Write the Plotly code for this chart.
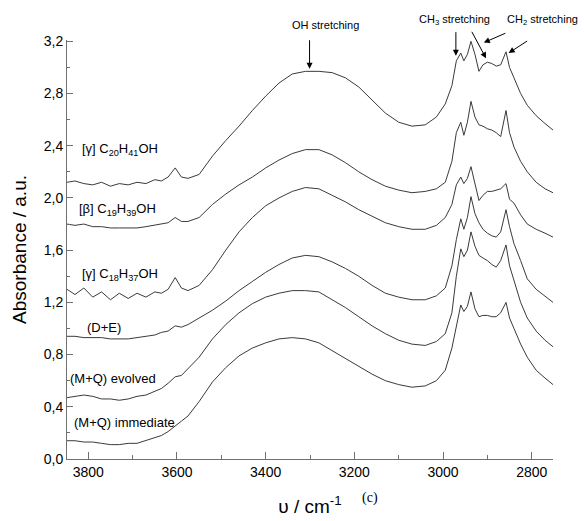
import plotly.graph_objects as go

# shared wavenumber grid (cm-1)
wavenumber = [3848, 3830, 3810, 3790, 3770, 3750, 3730, 3710, 3690, 3670, 3650, 3635, 3620,
              3604, 3590, 3575, 3550, 3520, 3490, 3460, 3430, 3400, 3370, 3340, 3310, 3280,
              3250, 3220, 3190, 3160, 3130, 3100, 3070, 3040, 3015, 2995, 2980, 2970, 2960,
              2953, 2945, 2937, 2928, 2919, 2910, 2900, 2890, 2880, 2870, 2858, 2850, 2840,
              2825, 2810, 2790, 2770, 2752]

c20h41oh = [2.12, 2.13, 2.11, 2.10, 2.12, 2.09, 2.11, 2.10, 2.12, 2.11, 2.14, 2.13, 2.16,
            2.23, 2.16, 2.15, 2.18, 2.32, 2.44, 2.55, 2.67, 2.78, 2.88, 2.95, 2.97, 2.97,
            2.96, 2.92, 2.85, 2.75, 2.65, 2.58, 2.55, 2.56, 2.62, 2.72, 2.86, 3.05, 3.11,
            3.05, 3.10, 3.20, 3.10, 2.97, 3.02, 3.04, 3.03, 3.01, 3.02, 3.12, 3.00, 2.92,
            2.80, 2.71, 2.63, 2.57, 2.52]

c19h39oh = [1.80, 1.79, 1.80, 1.78, 1.78, 1.77, 1.77, 1.77, 1.77, 1.78, 1.79, 1.80, 1.81,
            1.85, 1.82, 1.82, 1.85, 1.95, 2.03, 2.10, 2.16, 2.23, 2.29, 2.34, 2.37, 2.37,
            2.33, 2.27, 2.20, 2.14, 2.09, 2.06, 2.04, 2.05, 2.07, 2.12, 2.28, 2.50, 2.58,
            2.48, 2.58, 2.74, 2.62, 2.56, 2.55, 2.53, 2.52, 2.50, 2.47, 2.67, 2.50, 2.39,
            2.28, 2.20, 2.12, 2.07, 2.04]

c18h37oh = [1.30, 1.26, 1.31, 1.24, 1.28, 1.22, 1.27, 1.23, 1.27, 1.24, 1.28, 1.27, 1.30,
            1.39, 1.31, 1.29, 1.33, 1.45, 1.60, 1.74, 1.85, 1.94, 2.00, 2.05, 2.08, 2.07,
            2.02, 1.97, 1.91, 1.86, 1.81, 1.78, 1.76, 1.76, 1.79, 1.85, 1.95, 2.10, 2.16,
            2.11, 2.15, 2.24, 2.12, 1.98, 2.02, 2.05, 2.05, 2.06, 2.07, 2.11, 1.99, 1.96,
            1.87, 1.80, 1.76, 1.73, 1.70]

d_plus_e = [0.94, 0.94, 0.93, 0.93, 0.93, 0.92, 0.92, 0.92, 0.93, 0.94, 0.95, 0.97, 0.98,
            1.02, 1.01, 1.03, 1.08, 1.14, 1.21, 1.29, 1.36, 1.43, 1.49, 1.54, 1.56, 1.55,
            1.51, 1.46, 1.40, 1.33, 1.27, 1.24, 1.22, 1.22, 1.25, 1.31, 1.48, 1.68, 1.84,
            1.76, 1.85, 2.01, 1.88, 1.81, 1.76, 1.73, 1.71, 1.70, 1.74, 1.91, 1.78, 1.65,
            1.52, 1.38, 1.30, 1.25, 1.20]

mq_evolved = [0.47, 0.48, 0.49, 0.48, 0.46, 0.46, 0.45, 0.46, 0.48, 0.49, 0.52, 0.54, 0.58,
              0.63, 0.64, 0.69, 0.78, 0.92, 1.03, 1.12, 1.19, 1.24, 1.27, 1.29, 1.29, 1.28,
              1.22, 1.16, 1.09, 1.02, 0.96, 0.91, 0.88, 0.87, 0.90, 0.96, 1.12, 1.40, 1.61,
              1.55, 1.60, 1.74, 1.63, 1.56, 1.54, 1.52, 1.49, 1.47, 1.52, 1.64, 1.48, 1.36,
              1.20, 1.08, 0.98, 0.91, 0.86]

mq_immediate = [0.14, 0.14, 0.13, 0.13, 0.12, 0.11, 0.11, 0.12, 0.12, 0.14, 0.16, 0.18, 0.21,
                0.25, 0.29, 0.33, 0.44, 0.59, 0.70, 0.79, 0.85, 0.89, 0.92, 0.93, 0.92, 0.89,
                0.83, 0.77, 0.71, 0.65, 0.60, 0.57, 0.55, 0.56, 0.60, 0.68, 0.85, 1.02, 1.18,
                1.13, 1.17, 1.28, 1.15, 1.09, 1.10, 1.10, 1.09, 1.09, 1.12, 1.20, 1.08, 1.00,
                0.88, 0.78, 0.68, 0.62, 0.57]

series = [c20h41oh, c19h39oh, c18h37oh, d_plus_e, mq_evolved, mq_immediate]

# labels: (text, wavenumber of left edge, absorbance)
curve_labels = [
    ("[γ] C<sub>20</sub>H<sub>41</sub>OH", 3818, 2.37),
    ("[β] C<sub>19</sub>H<sub>39</sub>OH", 3825, 1.91),
    ("[γ] C<sub>18</sub>H<sub>37</sub>OH", 3818, 1.41),
    ("(D+E)", 3807, 1.01),
    ("(M+Q) evolved", 3845, 0.62),
    ("(M+Q) immediate", 3836, 0.28),
]

# band labels: (text, paper x centre, paper y centre)
band_labels = [
    ("OH stretching", 0.531, 1.036),
    ("CH<sub>3</sub> stretching", 0.797, 1.047),
    ("CH<sub>2</sub> stretching", 0.978, 1.047),
]

FONT = "Liberation Sans Narrow, Arial Narrow, Liberation Sans, Arial, sans-serif"
LINE = "#3a3a3a"
AXC = "#707070"

fig = go.Figure()
for ys in series:
    fig.add_trace(go.Scatter(x=wavenumber, y=ys, mode="lines",
                             line=dict(color=LINE, width=1), showlegend=False,
                             hoverinfo="skip"))

ann = []
for text, xv, yv in curve_labels:
    ann.append(dict(x=xv, y=yv, xref="x", yref="y", text=text, showarrow=False,
                    xanchor="left", yanchor="middle",
                    font=dict(size=13, color="black", family=FONT)))

for text, xp, yp in band_labels:
    ann.append(dict(x=xp, y=yp, xref="paper", yref="paper", text=text, showarrow=False,
                    xanchor="center", yanchor="middle",
                    font=dict(size=11, color="black", family=FONT)))

arrows = [(3301, 2.99, 0, -30), (2971, 3.09, 0, -25), (2903, 3.07, -15, -28),
          (2908, 3.19, 23, -10), (2852, 3.11, 20, -13)]
for xv, yv, ax, ay in arrows:
    ann.append(dict(x=xv, y=yv, xref="x", yref="y", text="", showarrow=True,
                    ax=ax, ay=ay, axref="pixel", ayref="pixel", arrowhead=2, arrowsize=1.2,
                    arrowwidth=1, arrowcolor="black"))

ann.append(dict(x=0.624, y=-0.092, xref="paper", yref="paper", text="(c)", showarrow=False,
                xanchor="center", yanchor="middle",
                font=dict(size=14, color="black", family="Liberation Serif, Times New Roman, serif")))

fig.update_layout(
    width=584, height=521,
    margin=dict(l=67, r=31, t=40, b=62),
    paper_bgcolor="white", plot_bgcolor="white",
    separators=",.",
    font=dict(family=FONT, color="black", size=14),
    annotations=ann,
    xaxis=dict(range=[3848, 2752], showline=True, linecolor=AXC, linewidth=1, automargin=False,
               ticks="inside", ticklen=7, tickcolor=AXC, dtick=200, tick0=0,
               minor=dict(ticks="inside", ticklen=4, dtick=100, tickcolor=AXC),
               showgrid=False, zeroline=False, tickfont=dict(size=14, family=FONT),
               title=dict(text="υ / cm<sup>-1</sup>", font=dict(size=19, family=FONT), standoff=20)),
    yaxis=dict(range=[0, 3.21], showline=True, linecolor=AXC, linewidth=1, automargin=False,
               ticks="inside", ticklen=6, tickcolor=AXC, dtick=0.4, tick0=0, tickformat=".1f",
               minor=dict(ticks="inside", ticklen=3, dtick=0.2, tickcolor=AXC),
               showgrid=False, zeroline=False, tickfont=dict(size=14, family=FONT),
               title=dict(text="Absorbance / a.u.", font=dict(size=19, family=FONT), standoff=12)),
)

fig.write_html("out.html")
